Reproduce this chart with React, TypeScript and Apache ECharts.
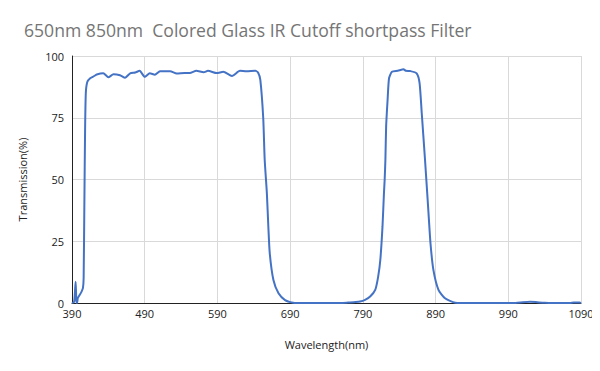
import React, { useEffect, useRef } from "react";
import * as echarts from "echarts";

const titleText = "650nm 850nm  Colored Glass IR Cutoff shortpass Filter";
const xAxisName = "Wavelength(nm)";
const yAxisName = "Transmission(%)";

const wavelengths = [
  390, 393, 395, 396, 397, 398, 400, 403, 405, 406, 407, 408, 409, 411, 415, 420, 424, 433, 440, 447,
  456, 463, 470, 477, 483, 490, 497, 504, 511, 525, 534, 545, 552, 561, 571, 577, 589, 598, 610, 621,
  630, 642, 646, 649, 653, 655, 658, 660, 662, 667, 674, 683, 694, 700, 760, 770, 780, 786, 793, 800,
  807, 811, 814, 817, 819, 820, 821, 822, 824, 826, 830, 838, 846, 849, 855, 864, 868, 871, 875.5, 880,
  883, 887, 894, 903, 917, 925, 1000, 1010, 1020, 1030, 1040, 1050, 1075, 1080, 1088, 1090,
];
const transmission = [
  0, 0.5, 8.6, 1, 0, 2, 3, 4.5, 6, 10, 40, 70, 85, 89.5, 91, 91.8, 92.5, 93, 91.4, 92.6,
  92.2, 91.2, 93, 93.3, 94, 91.6, 93, 92.4, 93.8, 93.8, 92.9, 93.1, 93.1, 94, 93.4, 94, 93.1, 93.6, 91.9, 94,
  93.8, 94, 93.2, 90.3, 74.8, 58, 44.4, 31, 20, 9.3, 3.9, 1.2, 0.1, 0, 0, 0.2, 0.4, 0.6, 1.3, 2.6,
  5.3, 10.6, 17.4, 30.9, 44.4, 50, 58, 71.4, 82.2, 91, 93.6, 94, 94.6, 94, 93.9, 93, 89, 76.8, 57.9, 37.7,
  24.2, 13.4, 5.3, 1.9, 0.1, 0, 0, 0.3, 0.5, 0.3, 0.1, 0, 0, 0.2, 0.2, 0,
];

const font = "'Open Sans', 'Noto Sans', sans-serif";

export default function App() {
  const ref = useRef<HTMLDivElement>(null);
  useEffect(() => {
    if (!ref.current) return;
    const chart = echarts.init(ref.current, undefined, { renderer: "svg" });
    chart.setOption({
      animation: false,
      backgroundColor: "#ffffff",
      title: {
        text: titleText,
        left: 19,
        top: 16,
        textStyle: { fontFamily: font, fontSize: 17.6, fontWeight: "normal", color: "#757575" },
      },
      grid: { left: 72, right: 19, top: 56, bottom: 68 },
      xAxis: {
        type: "value",
        min: 390,
        max: 1090,
        interval: 100,
        name: xAxisName,
        nameLocation: "middle",
        nameGap: 36,
        nameTextStyle: { fontFamily: font, fontSize: 11, color: "#222" },
        axisLine: { lineStyle: { color: "#222", width: 1 } },
        axisTick: { show: false },
        axisLabel: { fontFamily: font, fontSize: 11, color: "#222", margin: 5, formatter: (v: number) => String(v) },
        splitLine: { show: true, lineStyle: { color: "#d9d9d9", width: 1 } },
      },
      yAxis: {
        type: "value",
        min: 0,
        max: 100,
        interval: 25,
        name: yAxisName,
        nameLocation: "middle",
        nameGap: 44,
        nameTextStyle: { fontFamily: font, fontSize: 11, color: "#222" },
        axisLine: { show: true, lineStyle: { color: "#222", width: 1 } },
        axisTick: { show: false },
        axisLabel: { fontFamily: font, fontSize: 11, color: "#222", margin: 8 },
        splitLine: { show: true, lineStyle: { color: "#d9d9d9", width: 1 } },
      },
      series: [
        {
          type: "line",
          data: wavelengths.map((w, i) => [w, transmission[i]]),
          showSymbol: false,
          smooth: 0.2,
          lineStyle: { color: "#4472c4", width: 2 },
        },
      ],
    });
    return () => chart.dispose();
  }, []);
  return <div ref={ref} style={{ width: 600, height: 371, margin: -8 }} />;
}
